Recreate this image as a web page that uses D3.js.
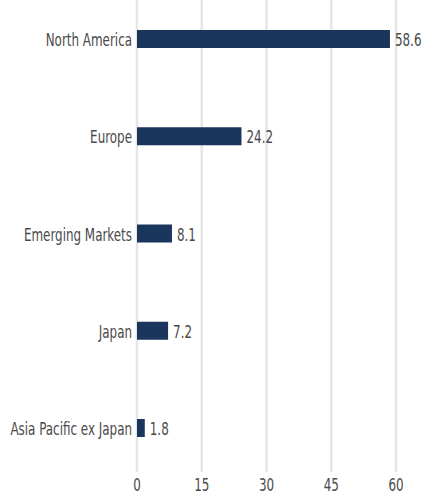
<!DOCTYPE html>
<html><head><meta charset="utf-8">
<script src="https://cdn.jsdelivr.net/npm/d3@7"></script>
<style>
body{margin:0;background:#fff;}
text{font-family:"DejaVu Sans Condensed","Liberation Sans Narrow",sans-serif;}
</style></head>
<body><svg id="c" width="422" height="497"></svg>
<script>
const categories = ["North America","Europe","Emerging Markets","Japan","Asia Pacific ex Japan"];
const values = [58.6,24.2,8.1,7.2,1.8];
const ticks = [0,15,30,45,60];

const svg = d3.select("#c");
const x = d3.scaleLinear().domain([0,60]).range([137,396]);
const y = d3.scalePoint().domain(categories).range([39,428]);
const barH = 18;
const fs = 17, sx = 0.78, col = "#4a4a4a";

svg.append("g").selectAll("line").data(ticks).join("line")
  .attr("x1",d=>x(d)).attr("x2",d=>x(d)).attr("y1",0).attr("y2",472)
  .attr("stroke","#e6e6e6").attr("stroke-width",2.5);

svg.append("g").selectAll("rect").data(values).join("rect")
  .attr("x",x(0)).attr("y",(d,i)=>y(categories[i])-barH/2)
  .attr("width",d=>x(d)-x(0)).attr("height",barH).attr("fill","#1b365d");

svg.append("g").selectAll("text").data(values).join("text")
  .attr("transform",(d,i)=>`translate(${x(d)+5},${y(categories[i])+1}) scale(${sx},1)`)
  .attr("dy","0.36em").attr("font-size",fs).attr("fill",col).text(d=>d.toFixed(1));

svg.append("g").selectAll("text").data(categories).join("text")
  .attr("transform",d=>`translate(${x(0)-5},${y(d)+1}) scale(${sx},1)`)
  .attr("dy","0.36em").attr("text-anchor","end")
  .attr("font-size",fs).attr("fill",col).text(d=>d);

svg.append("g").selectAll("text").data(ticks).join("text")
  .attr("transform",d=>`translate(${x(d)},491) scale(${sx},1)`)
  .attr("text-anchor","middle")
  .attr("font-size",fs).attr("fill",col).text(d=>d);
</script></body></html>
